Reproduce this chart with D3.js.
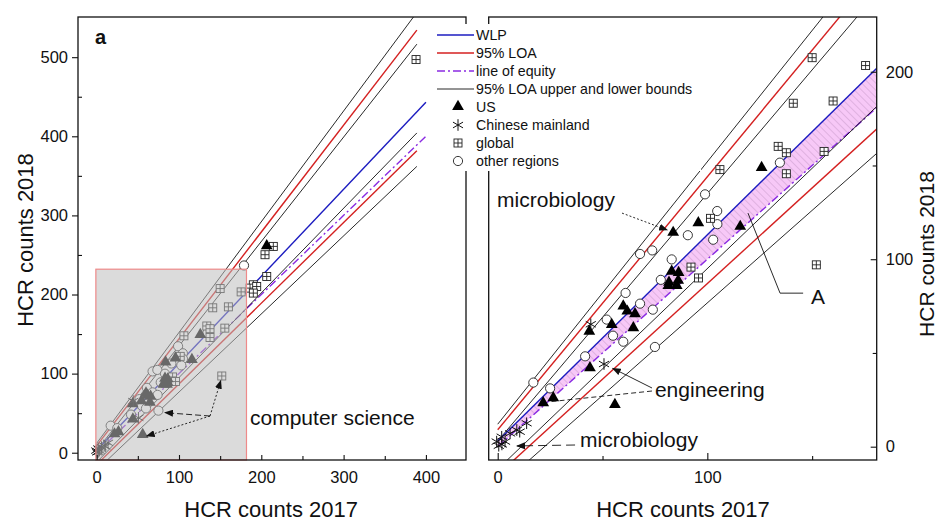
<!DOCTYPE html>
<html>
<head>
<meta charset="utf-8">
<script src="https://cdn.jsdelivr.net/npm/d3@7"></script>
<style>
body { margin: 0; background: #fff; }
text { font-family: "Liberation Sans", Arial, sans-serif; fill: #111; }
</style>
</head>
<body>
<div id="chart"></div>
<script>
// points (x = 2017 count, y = 2018 count)
var usPts = [[21.7, 23.1], [26.5, 25.8], [44, 41.8], [43.7, 61.3], [54.4, 64.9], [55.9, 22.2],
    [59.9, 74.7], [61.8, 72], [65.5, 70.6], [64.7, 63.1], [83, 93.3], [86.3, 92.6],
    [81.7, 87.4], [86.1, 88.4], [81.4, 85.7], [85.4, 85.7], [83.7, 114], [95.7, 119.1],
    [115.7, 117.2], [125.9, 148.6], [206.6, 260.8]];

var chinaPts = [[-0.5, 2.7], [0.5, 0.5], [2, 1.2], [1.9, 5.3], [3.5, 2.7], [5.9, 7.1],
    [9.1, 8.9], [10.5, 8], [13.8, 12.5], [44.4, 65.3], [50.7, 44.1]];

var globalPts = [[92.2, 95.8], [95.8, 90], [101.5, 121.8], [106, 147.8], [133.8, 160.2],
    [137.7, 156.8], [137.7, 145.6], [141, 183.2], [160, 184.4], [155.7, 157.5],
    [150, 207.5], [175.5, 203.3], [152, 97], [190.3, 212.3], [186.3, 208.1],
    [194.4, 210.1], [190.3, 201.8], [206.6, 222.8], [204.5, 250.3], [214.6, 260.8],
    [388, 497]];

var otherPts = [[17, 34.2], [25, 31.1], [41.7, 48.2], [52, 67.8], [55, 59.2], [59.9, 56],
    [61, 82], [67.9, 76.3], [74, 73.1], [75, 53.2], [77.8, 89], [67.9, 102.8],
    [73.7, 104.7], [83, 99.9], [90.7, 112.8], [98.9, 134.6], [104.7, 125.7],
    [104.8, 118.7], [102.8, 110.4], [134.6, 151.5], [179, 236.7]];

// fitted lines y = slope * x + intercept
var lineKeys = ["upOuter", "upLOA", "upInner", "wlp", "equity", "lowInner", "lowLOA", "lowOuter"];
var lineSlope = [1.40, 1.35, 1.32, 1.10, 1.00, 1.07, 1.02, 0.987];
var lineIntercept = [12, 9, 3, 3, 0, -12, -15, -22];
var lineEndA = [389, 389, 389, 400, 400, 389, 389, 389];

// ticks
var xTicksA = [0, 100, 200, 300, 400];
var xMinorA = [50, 150, 250, 350];
var yTicksA = [0, 100, 200, 300, 400, 500];
var yMinorA = [50, 150, 250, 350, 450];
var xTicksB = [0, 100];
var xMinorB = [50, 150];
var yTicksB = [0, 100, 200];
var yMinorB = [50, 150];

var legendLabels = ["WLP", "95% LOA", "line of equity", "95% LOA upper and lower bounds",
    "US", "Chinese mainland", "global", "other regions"];

// annotations (data coords)
var zoomBox = [[-1, -9.2], [182, 232]];
var csHub = [137.7, 46.4];
var csTargets = [[83, 50.6], [60.8, 21.1], [150.7, 91]];
var microUpArrow = [[59.3, 124.6], [80.8, 115.6]];
var aLeader = [[119.4, 124.6], [134.7, 81.9], [145.7, 81.9]];
var engSolid = [[73.6, 31.3], [54.9, 41.8]];
var engDash = [[73.6, 29.7], [25, 24]];
var microLowDash = [[36.9, 0.9], [9.2, 0.4]];

var width = 941, height = 521;

var svg = d3.select("#chart").append("svg")
    .attr("width", width)
    .attr("height", height);

var pa = {left: 78, right: 466, top: 17, bottom: 460};
var pb = {left: 488.7, right: 876.7, top: 17, bottom: 460};

var xA = d3.scaleLinear().domain([-22.7, 448.7]).range([pa.left, pa.right]);
var yA = d3.scaleLinear().domain([-9.2, 550.8]).range([pa.bottom, pa.top]);
var xB = d3.scaleLinear().domain([-4.3, 180.8]).range([pb.left, pb.right]);
var yB = d3.scaleLinear().domain([-7.1, 229.2]).range([pb.bottom, pb.top]);

var lineStyle = {
    upOuter: {c: "#111", w: 0.9}, upInner: {c: "#111", w: 0.9},
    lowOuter: {c: "#111", w: 0.9}, lowInner: {c: "#111", w: 0.9},
    upLOA: {c: "#d42020", w: 1.4}, lowLOA: {c: "#d42020", w: 1.4},
    wlp: {c: "#1c1cc0", w: 1.4}, equity: {c: "#8a2be2", w: 1.4, d: "8,3,2,3"}
};

var defs = svg.append("defs");
[["clipA", pa], ["clipB", pb]].forEach(function(p) {
    defs.append("clipPath").attr("id", p[0]).append("rect")
        .attr("x", p[1].left).attr("y", p[1].top)
        .attr("width", p[1].right - p[1].left).attr("height", p[1].bottom - p[1].top);
});
var pat = defs.append("pattern").attr("id", "hatch")
    .attr("patternUnits", "userSpaceOnUse")
    .attr("width", 5).attr("height", 5)
    .attr("patternTransform", "rotate(-45)");
pat.append("rect").attr("width", 5).attr("height", 5).attr("fill", "#f7c8f7");
pat.append("line").attr("x1", 0).attr("y1", 0).attr("x2", 0).attr("y2", 5)
    .attr("stroke", "#c79bc9").attr("stroke-width", 1);
defs.append("marker").attr("id", "arr")
    .attr("markerUnits", "userSpaceOnUse")
    .attr("markerWidth", 9).attr("markerHeight", 7)
    .attr("refX", 8).attr("refY", 3.5).attr("orient", "auto")
    .append("path").attr("d", "M0,0L9,3.5L0,7Z").attr("fill", "#111");

// marker drawing helpers
function drawTri(g, x, y) {
    g.append("path").attr("d", d3.symbol().type(d3.symbolTriangle).size(60)())
        .attr("transform", "translate(" + x + "," + (y - 0.5) + ")")
        .attr("fill", "#000");
}
function drawStar(g, x, y) {
    var r = 5.8;
    g.append("path")
        .attr("d", "M" + x + "," + (y - r) + "V" + (y + r) +
            "M" + (x - r * 0.87) + "," + (y - r * 0.5) + "L" + (x + r * 0.87) + "," + (y + r * 0.5) +
            "M" + (x - r * 0.87) + "," + (y + r * 0.5) + "L" + (x + r * 0.87) + "," + (y - r * 0.5))
        .attr("stroke", "#111").attr("stroke-width", 1).attr("fill", "none");
}
function drawSq(g, x, y) {
    var h = 4;
    g.append("rect").attr("x", x - h).attr("y", y - h).attr("width", 2 * h).attr("height", 2 * h)
        .attr("fill", "#fff").attr("stroke", "#222").attr("stroke-width", 0.9);
    g.append("path").attr("d", "M" + (x - h) + "," + y + "H" + (x + h) + "M" + x + "," + (y - h) + "V" + (y + h))
        .attr("stroke", "#222").attr("stroke-width", 0.9);
}
function drawCirc(g, x, y) {
    g.append("circle").attr("cx", x).attr("cy", y).attr("r", 4.6)
        .attr("fill", "#fff").attr("stroke", "#222").attr("stroke-width", 0.9);
}

function drawLines(g, xs, ys, xEnd) {
    lineKeys.forEach(function(k, i) {
        var st = lineStyle[k];
        var x1 = typeof xEnd === "number" ? xEnd : xEnd[i];
        g.append("line")
            .attr("x1", xs(0)).attr("y1", ys(lineIntercept[i]))
            .attr("x2", xs(x1)).attr("y2", ys(lineSlope[i] * x1 + lineIntercept[i]))
            .attr("stroke", st.c).attr("stroke-width", st.w)
            .attr("stroke-dasharray", st.d || null);
    });
}

function drawPoints(g, xs, ys) {
    otherPts.forEach(function(d) { drawCirc(g, xs(d[0]), ys(d[1])); });
    globalPts.forEach(function(d) { drawSq(g, xs(d[0]), ys(d[1])); });
    usPts.forEach(function(d) { drawTri(g, xs(d[0]), ys(d[1])); });
    chinaPts.forEach(function(d) { drawStar(g, xs(d[0]), ys(d[1])); });
}

function pathLine(g, pts, xs, ys, dash, arrow) {
    g.append("path")
        .attr("d", d3.line().x(function(d) { return xs(d[0]); }).y(function(d) { return ys(d[1]); })(pts))
        .attr("fill", "none").attr("stroke", "#111").attr("stroke-width", 0.9)
        .attr("stroke-dasharray", dash || null)
        .attr("marker-end", arrow ? "url(#arr)" : null);
}

// ---------- panel a ----------
var gA = svg.append("g").attr("clip-path", "url(#clipA)");
drawLines(gA, xA, yA, lineEndA);
drawPoints(gA, xA, yA);

// the grey zoom box sits on top of the points
svg.append("rect")
    .attr("x", xA(zoomBox[0][0])).attr("y", yA(zoomBox[1][1]))
    .attr("width", xA(zoomBox[1][0]) - xA(zoomBox[0][0]))
    .attr("height", yA(zoomBox[0][1]) - yA(zoomBox[1][1]))
    .attr("fill", "#bdbdbd").attr("fill-opacity", 0.55)
    .attr("stroke", "#ee8a8a").attr("stroke-width", 1.2);

pathLine(svg, [csHub, csTargets[0]], xA, yA, "6,3", true);
pathLine(svg, [csHub, csTargets[1]], xA, yA, "2,2", true);
pathLine(svg, [csHub, csTargets[2]], xA, yA, "2,2", true);
svg.append("text").attr("x", xA(186.3)).attr("y", yA(35))
    .attr("font-size", 21).text("computer science");

svg.append("rect").attr("x", pa.left).attr("y", pa.top)
    .attr("width", pa.right - pa.left).attr("height", pa.bottom - pa.top)
    .attr("fill", "none").attr("stroke", "#111").attr("stroke-width", 1.3);

var axA = svg.append("g").attr("transform", "translate(0," + pa.bottom + ")")
    .call(d3.axisBottom(xA).tickValues(xTicksA).tickSize(-5).tickPadding(11));
svg.append("g").attr("transform", "translate(0," + pa.bottom + ")")
    .call(d3.axisBottom(xA).tickValues(xMinorA).tickSize(-4).tickFormat(""));
var ayA = svg.append("g").attr("transform", "translate(" + pa.left + ",0)")
    .call(d3.axisLeft(yA).tickValues(yTicksA).tickSize(6).tickPadding(4));
svg.append("g").attr("transform", "translate(" + pa.left + ",0)")
    .call(d3.axisLeft(yA).tickValues(yMinorA).tickSize(-4).tickFormat(""));

svg.append("text").attr("x", 95).attr("y", 44)
    .attr("font-size", 20).attr("font-weight", "bold").text("a");

svg.append("text").attr("x", xA(212)).attr("y", 517)
    .attr("text-anchor", "middle").attr("font-size", 22).text("HCR counts 2017");
svg.append("text").attr("transform", "translate(33,240) rotate(-90)")
    .attr("text-anchor", "middle").attr("font-size", 22).text("HCR counts 2018");

// ---------- panel b ----------
var gB = svg.append("g").attr("clip-path", "url(#clipB)");
var bandX = [0, xB.domain()[1]];
gB.append("path")
    .attr("d", d3.area()
        .x(function(d) { return xB(d); })
        .y0(function(d) { return yB(d); })
        .y1(function(d) { return yB(lineSlope[3] * d + lineIntercept[3]); })(bandX))
    .attr("fill", "url(#hatch)");
drawLines(gB, xB, yB, 185);
drawPoints(gB, xB, yB);

pathLine(svg, microUpArrow, xB, yB, "2,2", true);
pathLine(svg, aLeader, xB, yB, null, false);
pathLine(svg, engSolid, xB, yB, null, true);
pathLine(svg, engDash, xB, yB, "5,3", false);
pathLine(svg, microLowDash, xB, yB, "9,5", true);

svg.append("text").attr("x", xB(-0.3)).attr("y", yB(128)).attr("font-size", 21).text("microbiology");
svg.append("text").attr("x", xB(75)).attr("y", yB(26.5)).attr("font-size", 21).text("engineering");
svg.append("text").attr("x", xB(39.3)).attr("y", yB(-0.2)).attr("font-size", 21).text("microbiology");
svg.append("text").attr("x", xB(149.5)).attr("y", yB(76.1)).attr("font-size", 21).text("A");

svg.append("rect").attr("x", pb.left).attr("y", pb.top)
    .attr("width", pb.right - pb.left).attr("height", pb.bottom - pb.top)
    .attr("fill", "none").attr("stroke", "#111").attr("stroke-width", 1.3);

var axB = svg.append("g").attr("transform", "translate(0," + pb.bottom + ")")
    .call(d3.axisBottom(xB).tickValues(xTicksB).tickSize(-7).tickPadding(11));
svg.append("g").attr("transform", "translate(0," + pb.bottom + ")")
    .call(d3.axisBottom(xB).tickValues(xMinorB).tickSize(-4).tickFormat(""));
var ayB = svg.append("g").attr("transform", "translate(" + pb.right + ",0)")
    .call(d3.axisRight(yB).tickValues(yTicksB).tickSize(-6).tickPadding(9));
svg.append("g").attr("transform", "translate(" + pb.right + ",0)")
    .call(d3.axisRight(yB).tickValues(yMinorB).tickSize(-4).tickFormat(""));

svg.append("text").attr("x", 573).attr("y", 44)
    .attr("font-size", 20).attr("font-weight", "bold").text("b");

svg.append("text").attr("x", 683).attr("y", 517)
    .attr("text-anchor", "middle").attr("font-size", 22).text("HCR counts 2017");
svg.append("text").attr("transform", "translate(934,254) rotate(-90)")
    .attr("text-anchor", "middle").attr("font-size", 21).text("HCR counts 2018");

// tidy up axes
svg.selectAll(".domain").remove();
svg.selectAll(".tick line").attr("stroke", "#111").attr("stroke-width", 1.1);
svg.selectAll(".tick text").attr("font-size", 16.5)
    .attr("font-family", "Liberation Sans, Arial, sans-serif").attr("fill", "#111");

// ---------- legend (covers the gap between panels) ----------
var leg = svg.append("g");
leg.append("rect").attr("x", 433).attr("y", 24).attr("width", 268).attr("height", 147).attr("fill", "#fff");
var legY = d3.scalePoint().domain(legendLabels).range([35, 161]);
legendLabels.forEach(function(lab, i) {
    var y = legY(lab);
    if (i < 4) {
        var st = lineStyle[["wlp", "upLOA", "equity", "upOuter"][i]];
        leg.append("line").attr("x1", 437).attr("x2", 474).attr("y1", y).attr("y2", y)
            .attr("stroke", st.c).attr("stroke-width", st.w).attr("stroke-dasharray", st.d || null);
    } else if (i === 4) {
        drawTri(leg, 458, y);
    } else if (i === 5) {
        drawStar(leg, 458, y);
    } else if (i === 6) {
        drawSq(leg, 458, y);
    } else {
        drawCirc(leg, 458, y);
    }
    leg.append("text").attr("x", 476).attr("y", y).attr("dy", "0.35em")
        .attr("font-size", 14.2).text(lab);
});
</script>
</body>
</html>
